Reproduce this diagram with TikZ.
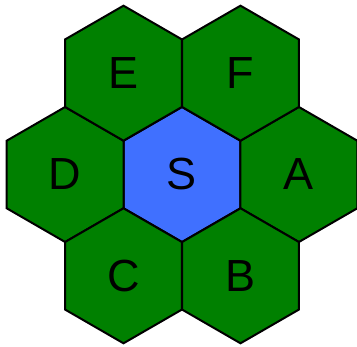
\documentclass[tikz,border=0pt]{standalone}
\usepackage{fontspec}
\setmainfont{Liberation Sans}
\usetikzlibrary{shapes.geometric}
\definecolor{hexgreen}{RGB}{0,128,0}
\definecolor{hexblue}{RGB}{64,112,255}
\tikzset{
  hexcell/.style={regular polygon, regular polygon sides=6, shape border rotate=30,
    minimum size=135pt, inner sep=0pt, draw=black, line width=2pt,
    font=\fontsize{45}{45}\selectfont, text=black},
  greencell/.style={hexcell, fill=hexgreen},
  bluecell/.style={hexcell, fill=hexblue}
}
\begin{document}
\begin{tikzpicture}[x=1pt,y=-1pt]
\useasboundingbox (0,0) rectangle (357,347);
\node[bluecell]  (S) at (182,174.5) {S};
\node[greencell] (A) at (298.9,174.5) {A};
\node[greencell] (D) at (65.1,174.5) {D};
\node[greencell] (E) at (123.5,73.2) {E};
\node[greencell] (F) at (240.5,73.2) {F};
\node[greencell] (C) at (123.5,275.8) {C};
\node[greencell] (B) at (240.5,275.8) {B};
\end{tikzpicture}
\end{document}
